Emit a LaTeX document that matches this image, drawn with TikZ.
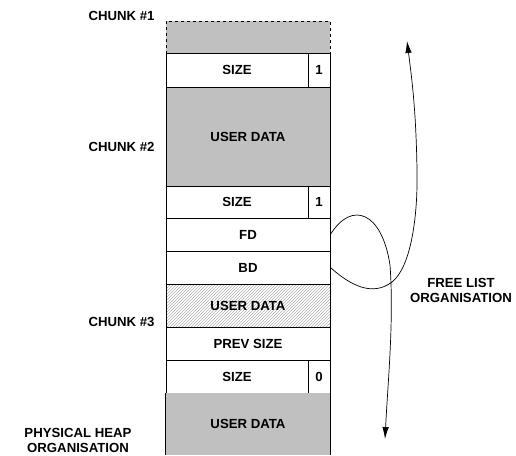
\documentclass[tikz,border=0pt]{standalone}
\usepackage{fontspec}
\setmainfont{Liberation Sans}
\usetikzlibrary{arrows.meta,patterns}

\definecolor{heapgray}{RGB}{192,192,192}

\tikzset{
	heapfont/.style={font=\fontsize{13.2}{15}\selectfont\bfseries},
	cell/.style={draw,rectangle,inner sep=0pt,minimum width=164pt,heapfont},
	lbl/.style={heapfont,inner sep=0pt},
	link/.style={line width=0.7pt,-{Latex[length=12pt,width=6.5pt]}},
}

\begin{document}
\begin{tikzpicture}[x=1pt,y=-1pt,line width=0.8pt]
	\useasboundingbox (0,0) rectangle (516,455);
	% chunk fields, top to bottom
	\node[cell,dashed,fill=heapgray,minimum height=32pt] (top) at (248,37){};
	\node[cell,minimum width=142pt,minimum height=34pt] (size1) at (237,70){SIZE};
	\node[cell,minimum width=22pt,minimum height=34pt] (bit1) at (319,70){1};
	\node[cell,fill=heapgray,minimum height=99pt] (data2) at (248,136.5){USER DATA};
	\node[cell,minimum width=142pt,minimum height=32pt] (size2) at (237,202){SIZE};
	\node[cell,minimum width=22pt,minimum height=32pt] (bit2) at (319,202){1};
	\node[cell,minimum height=33pt] (fd) at (248,234.5){FD};
	\node[cell,minimum height=33pt] (bd) at (248,267.5){BD};
	\node[cell,pattern=north east lines,pattern color=gray!60,minimum height=43pt] (data3) at (248,305.5){USER DATA};
	\node[cell,minimum height=33pt] (prev) at (248,343.5){PREV SIZE};
	\node[cell,minimum width=142pt,minimum height=33pt] (size3) at (237,376.5){SIZE};
	\node[cell,minimum width=22pt,minimum height=33pt] (bit3) at (319,376.5){0};
	\node[cell,draw=none,fill=heapgray,minimum height=62pt] (data4) at (248,424){USER DATA};
	\draw (data4.north west) -- (data4.south west);
	\draw (data4.north east) -- (data4.south east);

	% labels
	\node[lbl,anchor=east] (c1) at (155,16){CHUNK \#1};
	\node[lbl,anchor=east] (c2) at (155,147){CHUNK \#2};
	\node[lbl,anchor=east] (c3) at (155,322){CHUNK \#3};
	\node[lbl,align=center] (phys) at (78,440){PHYSICAL HEAP\\ORGANISATION};
	\node[lbl,align=center] (free) at (461,290){FREE LIST\\ORGANISATION};

	% free list: fd runs down to the next chunk, bd back up to the previous one
	\coordinate (next) at (385,439);
	\coordinate (prevchunk) at (407,41);
	\draw[link] (fd.east) .. controls (352,200) and (382,212) .. (390,265)
		.. controls (394,320) and (388,380) .. (next);
	\draw[link] (bd.east) .. controls (350,285) and (372,297) .. (392,282)
		.. controls (410,268) and (418,220) .. (417,170)
		.. controls (416,110) and (412,80) .. (prevchunk);
\end{tikzpicture}
\end{document}
